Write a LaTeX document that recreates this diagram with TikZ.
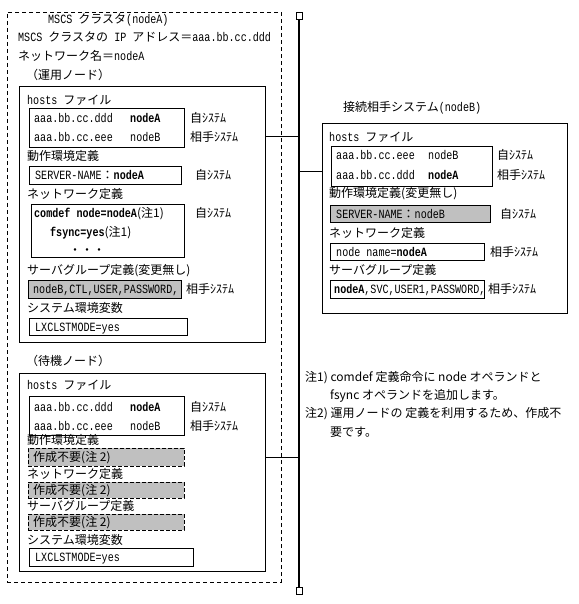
\documentclass[tikz,border=0pt]{standalone}
\usepackage{fontspec}
\setmainfont{Noto Sans CJK JP}
\newfontfamily\hwfont{Liberation Mono}[FakeStretch=0.8,Scale=1.05]
\newcommand{\hw}[1]{{\hwfont #1}}
\definecolor{sombra}{RGB}{192,192,192}

\tikzstyle{caja}= [rectangle,draw,black,line width=0.8pt,inner sep=0pt]
\tikzstyle{gris}= [caja,fill=sombra]
\tikzstyle{hueco}= [caja,fill=sombra,dash pattern=on 4pt off 2pt]
\tikzstyle{marco}= [caja,dash pattern=on 4pt off 3pt]
\tikzstyle{borne}= [caja,minimum width=6pt,minimum height=7pt]
\tikzstyle{texto}= [anchor=west,inner sep=0pt,text height=10.5pt,text depth=1.5pt]

\begin{document}
\begin{tikzpicture}[x=1pt,y=-1pt,font=\fontsize{12}{14}\selectfont]
		\useasboundingbox (0,0) rectangle (578,604);

		\node (cluster) at (144,297) [marco,minimum width=274,minimum height=570] {};
		\node at (48,19) [texto] {\hw{MSCS }クラスタ\hw{(nodeA)}};
		\node at (18,37) [texto] {\hw{MSCS }クラスタの\hw{ IP }アドレス＝\hw{aaa.bb.cc.ddd}};
		\node at (18,56) [texto] {ネットワーク名＝\hw{nodeA}};
		\node at (26,75) [texto] {（運用ノード）};

		\node (act) at (142,214) [caja,minimum width=246,minimum height=256] {};
		\node at (27,100) [texto] {\hw{hosts }ファイル};
		\node (hostsa) at (106.5,127.5) [caja,minimum width=155,minimum height=39] {};
		\node at (34,118) [texto] {\hw{aaa.bb.cc.ddd}};
		\node at (130,118) [texto] {\hw{\textbf{nodeA}}};
		\node at (34,137) [texto] {\hw{aaa.bb.cc.eee}};
		\node at (130,137) [texto] {\hw{nodeB}};
		\node at (190,118) [texto] {自ｼｽﾃﾑ};
		\node at (190,137) [texto] {相手ｼｽﾃﾑ};

		\node at (27,156) [texto] {動作環境定義};
		\node (srva) at (105,175) [caja,minimum width=152,minimum height=18] {};
		\node at (35,175) [texto] {\hw{SERVER-NAME}：\hw{\textbf{nodeA}}};
		\node at (195,175) [texto] {自ｼｽﾃﾑ};

		\node at (27,194) [texto] {ネットワーク定義};
		\node (neta) at (107.5,230.5) [caja,minimum width=153,minimum height=53] {};
		\node at (34,213) [texto] {\hw{\textbf{comdef node=nodeA}}(注1)};
		\node at (50,232) [texto] {\hw{\textbf{fsync=yes}}(注1)};
		\node at (69,250) [texto] {・・・};
		\node at (195,213) [texto] {自ｼｽﾃﾑ};

		\node at (27,270) [texto] {サーバグループ定義(変更無し)};
		\node (grpa) at (104.5,289) [gris,minimum width=153,minimum height=18] {};
		\node at (33,289) [texto] {\hw{nodeB,CTL,USER,PASSWORD,}};
		\node at (186,289) [texto] {相手ｼｽﾃﾑ};

		\node at (27,308) [texto] {システム環境変数};
		\node (enva) at (108,326.5) [caja,minimum width=158,minimum height=17] {};
		\node at (35,326.5) [texto] {\hw{LXCLSTMODE=yes}};

		\node at (26,361) [texto] {（待機ノード）};
		\node (stb) at (142,472) [caja,minimum width=246,minimum height=198] {};
		\node at (27,385) [texto] {\hw{hosts }ファイル};
		\node (hostss) at (106.5,415.5) [caja,minimum width=155,minimum height=39] {};
		\node at (34,407) [texto] {\hw{aaa.bb.cc.ddd}};
		\node at (130,407) [texto] {\hw{\textbf{nodeA}}};
		\node at (34,426) [texto] {\hw{aaa.bb.cc.eee}};
		\node at (130,426) [texto] {\hw{nodeB}};
		\node at (190,407) [texto] {自ｼｽﾃﾑ};
		\node at (190,426) [texto] {相手ｼｽﾃﾑ};

		\node at (27,440) [texto] {動作環境定義};
		\node (srvs) at (106,457) [hueco,minimum width=156,minimum height=18] {};
		\node at (33,457) [texto] {作成不要(注 2)};
		\node at (27,474) [texto] {ネットワーク定義};
		\node (nets) at (106,490) [hueco,minimum width=156,minimum height=16] {};
		\node at (33,490) [texto] {作成不要(注 2)};
		\node at (27,506) [texto] {サーバグループ定義};
		\node (grps) at (106,522) [hueco,minimum width=156,minimum height=16] {};
		\node at (33,522) [texto] {作成不要(注 2)};
		\node at (27,540) [texto] {システム環境変数};
		\node (envs) at (111,557) [caja,minimum width=164,minimum height=18] {};
		\node at (35,557) [texto] {\hw{LXCLSTMODE=yes}};

		\node (sq1) at (299,15.5) [borne] {};
		\node (sq2) at (299,590.5) [borne] {};
		\coordinate (ba) at (299,136);
		\coordinate (bb) at (299,171);
		\coordinate (bs) at (299,457);

		\node at (343,107) [texto] {接続相手システム\hw{(nodeB)}};
		\node (nodob) at (444.5,218) [caja,minimum width=245,minimum height=190] {};
		\node at (329,137) [texto] {\hw{hosts }ファイル};
		\node (hostsb) at (411.5,166) [caja,minimum width=161,minimum height=40] {};
		\node at (336,155) [texto] {\hw{aaa.bb.cc.eee}};
		\node at (428,155) [texto] {\hw{nodeB}};
		\node at (336,175) [texto] {\hw{aaa.bb.cc.ddd}};
		\node at (428,175) [texto] {\hw{\textbf{nodeA}}};
		\node at (497,155) [texto] {自ｼｽﾃﾑ};
		\node at (497,175) [texto] {相手ｼｽﾃﾑ};

		\node at (329,193) [texto] {動作環境定義(変更無し)};
		\node (srvb) at (410,213.5) [gris,minimum width=160,minimum height=17] {};
		\node at (336,213.5) [texto] {\hw{SERVER-NAME}：\hw{nodeB}};
		\node at (500,213.5) [texto] {自ｼｽﾃﾑ};

		\node at (329,233) [texto] {ネットワーク定義};
		\node (netb) at (407,251.5) [caja,minimum width=154,minimum height=17] {};
		\node at (336,251.5) [texto] {\hw{node name=\textbf{nodeA}}};
		\node at (490,251.5) [texto] {相手ｼｽﾃﾑ};

		\node at (329,270) [texto] {サーバグループ定義};
		\node (grpb) at (407,289) [caja,minimum width=154,minimum height=18] {};
		\node at (334,289) [texto] {\hw{\textbf{nodeA},SVC,USER1,PASSWORD,}};
		\node at (488,289) [texto] {相手ｼｽﾃﾑ};

		\node at (305,377) [texto] {注1) comdef 定義命令に node オペランドと};
		\node at (330,395) [texto] {fsync オペランドを追加します。};
		\node at (305,413) [texto] {注2) 運用ノードの 定義を利用するため、作成不};
		\node at (330,432) [texto] {要です。};

		\path[black,line width=1.2pt] (sq1) edge (sq2);
		\path[black,line width=0.8pt] (ba -| act.east) edge (ba);
		\path[black,line width=0.8pt] (bb) edge (bb -| nodob.west);
		\path[black,line width=0.8pt] (bs -| stb.east) edge (bs);

	\end{tikzpicture}
\end{document}
